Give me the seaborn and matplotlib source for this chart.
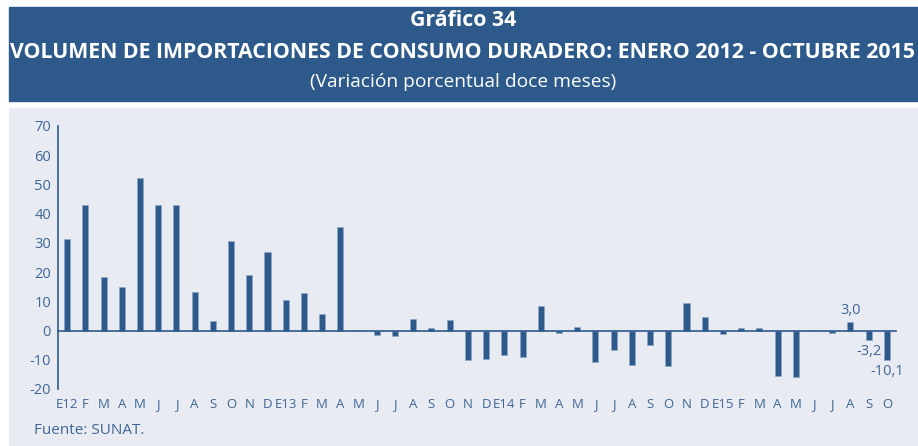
import pandas as pd
import numpy as np
import matplotlib
matplotlib.use("Agg")
import matplotlib.pyplot as plt
from matplotlib import font_manager
from matplotlib.patches import Rectangle
import seaborn as sns

# === data ===
months = ["E12", "F", "M", "A", "M", "J", "J", "A", "S", "O", "N", "D",
          "E13", "F", "M", "A", "M", "J", "J", "A", "S", "O", "N", "D",
          "E14", "F", "M", "A", "M", "J", "J", "A", "S", "O", "N", "D",
          "E15", "F", "M", "A", "M", "J", "J", "A", "S", "O"]
var_2012 = [31.5, 42.8, 18.2, 14.9, 52.3, 43.0, 43.1, 13.2, 3.4, 30.8, 18.9, 27.0]
var_2013 = [10.4, 12.9, 5.6, 35.3, -0.3, -1.6, -1.8, 4.0, 0.8, 3.5, -10.0, -9.6]
var_2014 = [-8.2, -9.0, 8.3, -0.7, 1.3, -10.7, -6.7, -11.7, -5.0, -12.3, 9.4, 4.6]
var_2015 = [-1.3, 0.8, 1.0, -15.6, -15.8, -0.2, -0.8, 3.0, -3.2, -10.1]
label_months = [43, 44, 45]   # bars with value labels
yticks = list(range(-20, 80, 10))

values = var_2012 + var_2013 + var_2014 + var_2015
df = pd.DataFrame({"pos": np.arange(len(values)), "valor": values})

# colours
BLUE = "#2d5a8a"
PANEL = "#e8ecf2"
TXT = "#3e6596"

sns.set_theme(style="white")
names = {f.name for f in font_manager.fontManager.ttflist}
narrow = "Liberation Sans Narrow" if "Liberation Sans Narrow" in names else "Open Sans"
plt.rcParams["font.family"] = ["Open Sans", "DejaVu Sans"]

fig = plt.figure(figsize=(9.18, 4.46), dpi=100)
fig.patch.set_facecolor("white")

# header box and grey panel
fig.add_artist(Rectangle((9 / 918, 1 - 101 / 446), 909 / 918, 94 / 446,
                         transform=fig.transFigure, color=BLUE, zorder=0))
fig.add_artist(Rectangle((9 / 918, 0), 909 / 918, 1 - 108 / 446,
                         transform=fig.transFigure, color=PANEL, zorder=0))

fig.text(0.505, 1 - 20 / 446, "Gráfico 34", ha="center", va="center",
         color="white", fontsize=15.3, fontweight="bold")
fig.text(0.504, 1 - 53 / 446, "VOLUMEN DE IMPORTACIONES DE CONSUMO DURADERO: ENERO 2012 - OCTUBRE 2015",
         ha="center", va="center", color="white", fontsize=15.3, fontweight="bold")
fig.text(0.504, 1 - 82 / 446, "(Variación porcentual doce meses)", ha="center", va="center",
         color="white", fontsize=13.8)

ax = fig.add_axes([58 / 918, 1 - 389 / 446, (896 - 58) / 918, (389 - 126) / 446])
ax.set_facecolor("none")

sns.barplot(data=df, x="pos", y="valor", color=BLUE, width=0.33, saturation=1,
            edgecolor="#8aa5c8", linewidth=0.5, ax=ax)

ax.set_xlim(-0.5, len(values) - 0.5)
ax.set_ylim(-20, 70)
ax.set_yticks(yticks)
ax.set_yticklabels([str(t) for t in yticks], color=TXT, fontsize=10.5)
ax.tick_params(axis="y", direction="out", length=3, width=1, color=BLUE, pad=2)

# x axis line sits at zero, small ticks between the bars
ax.spines["bottom"].set_position(("data", 0))
for s in ["top", "right"]:
    ax.spines[s].set_visible(False)
for s in ["left", "bottom"]:
    ax.spines[s].set_color(BLUE)
    ax.spines[s].set_linewidth(1.2)
ax.set_xticks(np.arange(len(values) + 1) - 0.5)
ax.set_xticklabels([])
ax.tick_params(axis="x", direction="out", length=3, width=1, color=BLUE)
ax.set_xlabel("")
ax.set_ylabel("")

# month labels under the plot area
trans = matplotlib.transforms.blended_transform_factory(ax.transData, ax.transAxes)
for i, m in enumerate(months):
    ax.text(i, -0.058, m, transform=trans, ha="center", va="center",
            color=TXT, fontsize=9.5, family=[narrow, "DejaVu Sans"])

# value labels for the last months
for i in label_months:
    v = values[i]
    txt = f"{v:.1f}".replace(".", ",")
    if v >= 0:
        ax.annotate(txt, (i, v), xytext=(0, 3), textcoords="offset points",
                    ha="center", va="bottom", color=TXT, fontsize=10.5)
    else:
        ax.annotate(txt, (i, v), xytext=(0, -3), textcoords="offset points",
                    ha="center", va="top", color=TXT, fontsize=10.5)

fig.text(34 / 918, 1 - 431 / 446, "Fuente: SUNAT.", ha="left", va="center",
         color=TXT, fontsize=11)

fig.savefig("out.png", dpi=100, facecolor=fig.get_facecolor())
